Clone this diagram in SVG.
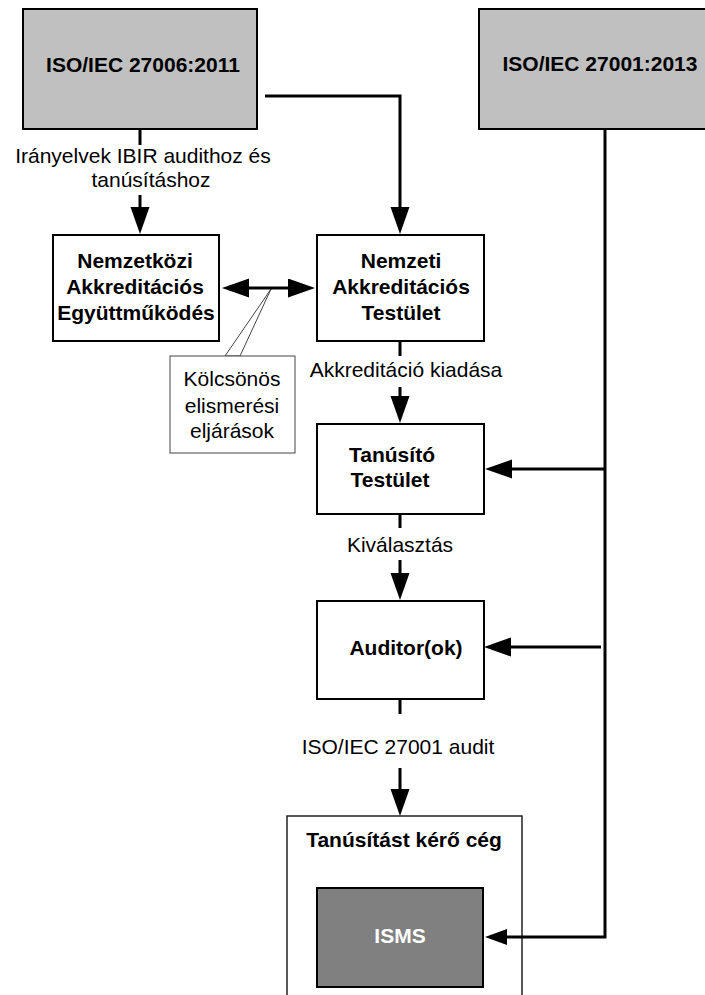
<svg xmlns="http://www.w3.org/2000/svg" width="705" height="995" viewBox="0 0 705 995">
<style>
text{font-family:"Liberation Sans",Arial,sans-serif;font-size:21px;fill:#000}
.b{font-weight:bold}
.m{text-anchor:middle}
.box{fill:#fff;stroke:#000;stroke-width:2}
.std{fill:#c0c0c0;stroke:#000;stroke-width:2}
.con{fill:none;stroke:#000;stroke-width:3}
</style>
<defs>
<marker id="ah" markerUnits="userSpaceOnUse" markerWidth="28" markerHeight="20" refX="0" refY="9.5" orient="auto-start-reverse"><path d="M0,0 L27,9.5 L0,19 z" fill="#000"/></marker>
<marker id="ahs" markerUnits="userSpaceOnUse" markerWidth="23" markerHeight="17" refX="0" refY="8" orient="auto"><path d="M0,0 L22,8 L0,16 z" fill="#000"/></marker>
</defs>

<g id="iso27006">
<rect class="std" x="23" y="9" width="234" height="120"/>
<text class="b m" x="143" y="72">ISO/IEC 27006:2011</text>
</g>

<g id="iso27001">
<rect class="std" x="479" y="9" width="242" height="120"/>
<text class="b m" x="600" y="71">ISO/IEC 27001:2013</text>
</g>

<g id="nemzetkozi">
<rect class="box" x="53" y="235" width="166" height="106"/>
<text class="b m" x="135" y="268">Nemzetközi</text>
<text class="b m" x="135" y="294">Akkreditációs</text>
<text class="b m" x="136" y="320">Együttműködés</text>
</g>

<g id="nemzeti">
<rect class="box" x="317" y="235" width="167" height="106"/>
<text class="b m" x="401" y="268">Nemzeti</text>
<text class="b m" x="401" y="294">Akkreditációs</text>
<text class="b m" x="401" y="320">Testület</text>
</g>

<g id="callout">
<polygon points="225,356 271,289 240,356" fill="#fff" stroke="#444" stroke-width="1"/>
<rect x="170" y="356" width="125" height="97" fill="#fff" stroke="#444" stroke-width="1"/>
<text class="m" x="232" y="386">Kölcsönös</text>
<text class="m" x="232" y="413">elismerési</text>
<text class="m" x="232" y="438">eljárások</text>
</g>

<g id="tanusito">
<rect class="box" x="317" y="424" width="167" height="90"/>
<text class="b m" x="392" y="462">Tanúsító</text>
<text class="b m" x="390" y="487">Testület</text>
</g>

<g id="auditor">
<rect class="box" x="317" y="601" width="167" height="98"/>
<text class="b m" x="406" y="655">Auditor(ok)</text>
</g>

<g id="ceg">
<rect x="287" y="816" width="235" height="200" fill="#fff" stroke="#222" stroke-width="1.5"/>
<text class="b m" x="404" y="847">Tanúsítást kérő cég</text>
</g>

<g id="isms">
<rect x="317" y="888" width="166" height="99" fill="#808080" stroke="#000" stroke-width="2"/>
<text class="b m" x="400" y="943" style="fill:#fff">ISMS</text>
</g>

<g id="connectors">
<line class="con" x1="140" y1="129" x2="140" y2="145"/>
<line class="con" x1="140" y1="195" x2="140" y2="207" marker-end="url(#ah)"/>
<polyline class="con" points="265,96 400,96 400,207" marker-end="url(#ah)"/>
<line class="con" x1="249" y1="288" x2="288" y2="288" marker-start="url(#ah)" marker-end="url(#ah)"/>
<line class="con" x1="400" y1="341" x2="400" y2="356"/>
<line class="con" x1="400" y1="387" x2="400" y2="396" marker-end="url(#ah)"/>
<polyline class="con" points="605,129 605,937 507,937" marker-end="url(#ahs)"/>
<line class="con" x1="605" y1="469" x2="512" y2="469" marker-end="url(#ah)"/>
<line class="con" x1="400" y1="514" x2="400" y2="528"/>
<line class="con" x1="400" y1="560" x2="400" y2="573" marker-end="url(#ah)"/>
<line class="con" x1="601" y1="647" x2="511" y2="647" marker-end="url(#ah)"/>
<line class="con" x1="400" y1="699" x2="400" y2="714"/>
<line class="con" x1="400" y1="768" x2="400" y2="789" marker-end="url(#ah)"/>
<text class="m" x="143" y="163">Irányelvek IBIR audithoz és</text>
<text class="m" x="151" y="187">tanúsításhoz</text>
<text class="m" x="406" y="377">Akkreditáció kiadása</text>
<text class="m" x="400" y="552">Kiválasztás</text>
<text class="m" x="398" y="754">ISO/IEC 27001 audit</text>
</g>
</svg>
